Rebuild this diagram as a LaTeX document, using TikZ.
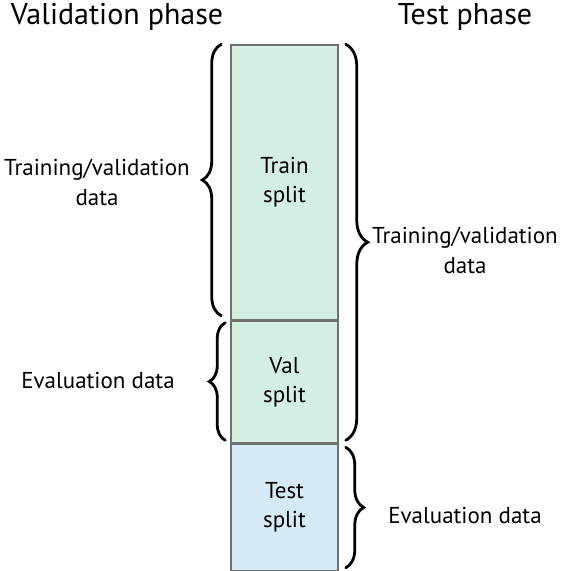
\documentclass[tikz,border=0pt]{standalone}
\usepackage{fontspec}
\setmainfont{PT Sans}
\usetikzlibrary{positioning, decorations.pathreplacing, calc}

\definecolor{trainfill}{HTML}{D5EEE2}
\definecolor{testfill}{HTML}{D5EAF6}
\definecolor{splitedge}{HTML}{707070}

\tikzset{
    split/.style={draw=splitedge, line width=1.5pt, minimum width=107pt, align=center, font=\fontsize{23}{29}\selectfont, inner sep=0pt},
    curly/.style={decorate, decoration={brace, amplitude=#1}, line width=2.8pt, line cap=round},
    label/.style={align=center, font=\fontsize{23}{30}\selectfont},
    phase/.style={font=\fontsize{30}{34}\selectfont}
}

\begin{document}
\begin{tikzpicture}[x=1pt, y=-1pt]
        % Fix the canvas to the reference size
        \useasboundingbox (0,0) rectangle (566,571);
        % The three splits
        \node[split, fill=trainfill, minimum height=275pt] (train) at (284.5,182.5) {Train\\split};
        \node[split, fill=trainfill, minimum height=121pt, below=0pt of train] (val) {Val\\split};
        \node[split, fill=testfill, minimum height=127pt, below=0pt of val] (test) {Test\\split};
        % Phase titles
        \node[phase] (valphase) at (117,17) {Validation phase};
        \node[phase] (testphase) at (465,17) {Test phase};
        % Validation phase braces
        \draw[curly=19pt] ($(train.south west)+(-9,-5)$) -- ($(train.north west)+(-9,0)$);
        \draw[curly=16pt] ($(val.south west)+(-5,-3)$) -- ($(val.north west)+(-5,2)$);
        \node[label] (valtrain) at (97,182) {Training/validation\\data};
        \node[label] (valeval) at (98,380) {Evaluation data};
        % Test phase braces
        \draw[curly=22pt] ($(train.north east)+(7,0)$) -- ($(val.south east)+(7,-3)$);
        \draw[curly=18pt] ($(test.north east)+(7,4)$) -- ($(test.south east)+(7,-4)$);
        \node[label] (testtrain) at (465,250) {Training/validation\\data};
        \node[label] (testeval) at (465,515) {Evaluation data};
    \end{tikzpicture}
\end{document}
